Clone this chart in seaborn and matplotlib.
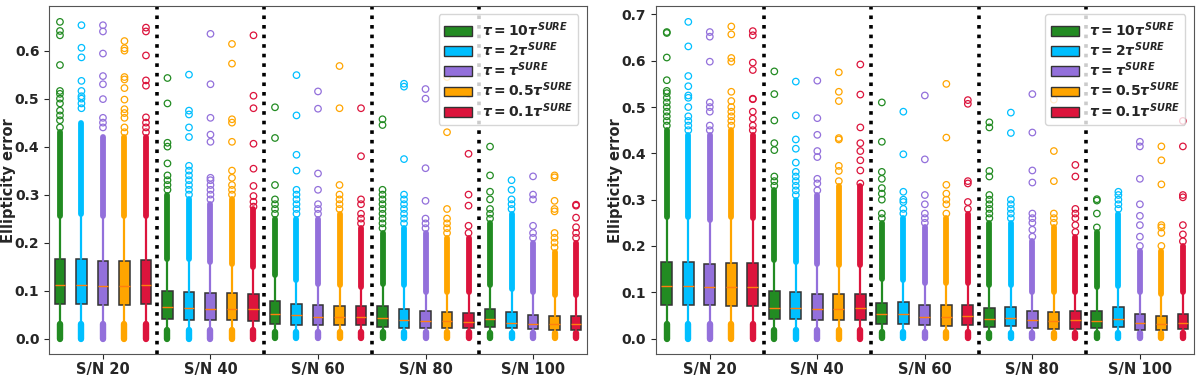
import numpy as np
import pandas as pd
import matplotlib
matplotlib.use("Agg")
import matplotlib.pyplot as plt
from matplotlib.patches import Patch
import seaborn as sns

# groups on the x axis and the five tau settings inside each group
SN_LABELS = ["S/N 20", "S/N 40", "S/N 60", "S/N 80", "S/N 100"]
TAU_LABELS = [r"$\boldsymbol{\tau = 10\tau^{SURE}}$", r"$\boldsymbol{\tau = 2\tau^{SURE}}$",
              r"$\boldsymbol{\tau = \tau^{SURE}}$", r"$\boldsymbol{\tau = 0.5\tau^{SURE}}$",
              r"$\boldsymbol{\tau = 0.1\tau^{SURE}}$"]
TAU_COLORS = ["forestgreen", "deepskyblue", "mediumpurple", "orange", "crimson"]

# ---- left panel (rows: S/N 20..100, cols: tau 10, 2, 1, 0.5, 0.1) ----
left_q3 = [[0.165, 0.165, 0.161, 0.161, 0.163],
           [0.099, 0.097, 0.094, 0.094, 0.093],
           [0.078, 0.073, 0.069, 0.068, 0.067],
           [0.067, 0.062, 0.057, 0.055, 0.054],
           [0.062, 0.055, 0.049, 0.047, 0.046]]
left_med = [[0.112, 0.112, 0.109, 0.109, 0.111],
            [0.066, 0.064, 0.062, 0.061, 0.061],
            [0.051, 0.0485, 0.045, 0.045, 0.044],
            [0.043, 0.038, 0.036, 0.036, 0.035],
            [0.040, 0.033, 0.031, 0.030, 0.030]]
left_q1 = [[0.071, 0.071, 0.070, 0.069, 0.071],
           [0.040, 0.0395, 0.038, 0.038, 0.0375],
           [0.031, 0.029, 0.028, 0.028, 0.028],
           [0.024, 0.023, 0.022, 0.022, 0.021],
           [0.024, 0.021, 0.019, 0.017, 0.017]]
left_whishi = [[0.256, 0.26, 0.255, 0.255, 0.255],
               [0.166, 0.165, 0.16, 0.155, 0.15],
               [0.132, 0.121, 0.114, 0.111, 0.107],
               [0.114, 0.112, 0.097, 0.097, 0.098],
               [0.111, 0.104, 0.097, 0.09, 0.091]]
left_whislo = [0.031, 0.018, 0.014, 0.013, 0.012]
left_lowmin = [0.0, 0.0, 0.002, 0.002, 0.002]
# top of the solid run of outliers above the upper whisker
left_dense_hi = [[0.43, 0.45, 0.42, 0.42, 0.42],
                 [0.30, 0.29, 0.28, 0.29, 0.27],
                 [0.25, 0.25, 0.25, 0.26, 0.23],
                 [0.22, 0.23, 0.22, 0.21, 0.21],
                 [0.24, 0.26, 0.20, 0.18, 0.20]]
left_fliers = [
    [[0.44, 0.455, 0.465, 0.475, 0.49, 0.50, 0.51, 0.516, 0.57, 0.632, 0.641, 0.66],
     [0.48, 0.49, 0.50, 0.505, 0.516, 0.537, 0.586, 0.606, 0.653],
     [0.44, 0.45, 0.46, 0.499, 0.53, 0.547, 0.594, 0.64, 0.653],
     [0.43, 0.44, 0.46, 0.47, 0.478, 0.498, 0.522, 0.54, 0.545, 0.60, 0.605, 0.62],
     [0.43, 0.44, 0.45, 0.461, 0.527, 0.538, 0.59, 0.64, 0.648]],
    [[0.31, 0.32, 0.33, 0.34, 0.365, 0.40, 0.408, 0.49, 0.543],
     [0.30, 0.31, 0.32, 0.33, 0.34, 0.35, 0.36, 0.42, 0.44, 0.467, 0.475, 0.55],
     [0.29, 0.30, 0.31, 0.32, 0.33, 0.335, 0.41, 0.425, 0.46, 0.53, 0.635],
     [0.30, 0.31, 0.32, 0.335, 0.35, 0.41, 0.45, 0.457, 0.573, 0.614],
     [0.275, 0.285, 0.297, 0.318, 0.354, 0.406, 0.48, 0.506, 0.632]],
    [[0.26, 0.27, 0.28, 0.29, 0.32, 0.418, 0.482],
     [0.26, 0.27, 0.28, 0.29, 0.30, 0.31, 0.35, 0.383, 0.465, 0.549],
     [0.26, 0.27, 0.28, 0.31, 0.344, 0.479, 0.515],
     [0.27, 0.28, 0.29, 0.30, 0.32, 0.48, 0.568],
     [0.24, 0.25, 0.26, 0.28, 0.29, 0.38, 0.48]],
    [[0.23, 0.24, 0.25, 0.26, 0.27, 0.28, 0.29, 0.30, 0.31, 0.445, 0.457],
     [0.24, 0.25, 0.26, 0.27, 0.28, 0.29, 0.30, 0.374, 0.525, 0.531],
     [0.23, 0.24, 0.25, 0.287, 0.355, 0.50, 0.52],
     [0.22, 0.23, 0.24, 0.25, 0.27, 0.43, 0.545],
     [0.22, 0.235, 0.277, 0.30, 0.385, 0.51]],
    [[0.25, 0.26, 0.27, 0.29, 0.306, 0.34, 0.40],
     [0.27, 0.28, 0.29, 0.31, 0.33],
     [0.21, 0.22, 0.235, 0.29, 0.30, 0.338],
     [0.19, 0.20, 0.21, 0.22, 0.265, 0.27, 0.287, 0.336, 0.34],
     [0.21, 0.22, 0.232, 0.252, 0.277, 0.279]],
]

# ---- right panel ----
right_q3 = [[0.165, 0.165, 0.162, 0.164, 0.164],
            [0.102, 0.1006, 0.097, 0.0963, 0.0963],
            [0.077, 0.078, 0.072, 0.072, 0.072],
            [0.066, 0.068, 0.0597, 0.0575, 0.059],
            [0.060, 0.068, 0.052, 0.049, 0.052]]
right_med = [[0.1136, 0.1136, 0.111, 0.111, 0.111],
             [0.066, 0.067, 0.063, 0.063, 0.065],
             [0.052, 0.052, 0.047, 0.047, 0.048],
             [0.042, 0.0446, 0.039, 0.037, 0.039],
             [0.037, 0.043, 0.0345, 0.031, 0.0345]]
right_q1 = [[0.072, 0.072, 0.072, 0.0705, 0.0705],
            [0.0417, 0.0417, 0.0395, 0.039, 0.0395],
            [0.032, 0.032, 0.029, 0.027, 0.029],
            [0.025, 0.027, 0.023, 0.0216, 0.0216],
            [0.023, 0.025, 0.019, 0.018, 0.020]]
right_whishi = [[0.262, 0.262, 0.255, 0.262, 0.26],
                [0.169, 0.165, 0.16, 0.158, 0.158],
                [0.129, 0.126, 0.119, 0.119, 0.119],
                [0.115, 0.115, 0.10, 0.10, 0.10],
                [0.111, 0.114, 0.10, 0.097, 0.10]]
right_whislo = [0.031, 0.018, 0.014, 0.013, 0.012]
right_lowmin = [0.0, 0.0, 0.002, 0.002, 0.002]
right_dense_hi = [[0.45, 0.44, 0.44, 0.45, 0.44],
                  [0.32, 0.30, 0.31, 0.33, 0.33],
                  [0.25, 0.26, 0.24, 0.26, 0.27],
                  [0.25, 0.25, 0.21, 0.24, 0.22],
                  [0.23, 0.27, 0.19, 0.19, 0.20]]
right_fliers = [
    [[0.46, 0.47, 0.48, 0.49, 0.50, 0.51, 0.52, 0.53, 0.535, 0.558, 0.607, 0.66, 0.662],
     [0.45, 0.46, 0.47, 0.48, 0.50, 0.52, 0.525, 0.545, 0.567, 0.631, 0.684],
     [0.45, 0.46, 0.49, 0.50, 0.51, 0.598, 0.652, 0.662],
     [0.46, 0.47, 0.48, 0.49, 0.50, 0.513, 0.533, 0.598, 0.606, 0.657, 0.674],
     [0.45, 0.46, 0.475, 0.49, 0.517, 0.518, 0.58, 0.596, 0.655, 0.664]],
    [[0.33, 0.34, 0.35, 0.407, 0.422, 0.471, 0.528, 0.577],
     [0.31, 0.32, 0.33, 0.34, 0.35, 0.36, 0.38, 0.41, 0.43, 0.482, 0.555],
     [0.32, 0.335, 0.345, 0.392, 0.405, 0.44, 0.476, 0.557],
     [0.34, 0.362, 0.373, 0.43, 0.433, 0.513, 0.533, 0.575],
     [0.335, 0.363, 0.385, 0.405, 0.422, 0.456, 0.527, 0.592]],
    [[0.26, 0.27, 0.30, 0.313, 0.325, 0.345, 0.36, 0.425, 0.51],
     [0.27, 0.28, 0.295, 0.30, 0.317, 0.398, 0.49],
     [0.25, 0.26, 0.27, 0.29, 0.31, 0.387, 0.525],
     [0.27, 0.29, 0.30, 0.313, 0.332, 0.434, 0.55],
     [0.28, 0.295, 0.335, 0.34, 0.507, 0.515]],
    [[0.26, 0.27, 0.28, 0.29, 0.30, 0.31, 0.35, 0.362, 0.456, 0.467],
     [0.26, 0.27, 0.28, 0.29, 0.30, 0.444, 0.488],
     [0.22, 0.235, 0.25, 0.26, 0.27, 0.337, 0.363, 0.445, 0.528],
     [0.25, 0.26, 0.27, 0.34, 0.405, 0.516],
     [0.23, 0.245, 0.26, 0.27, 0.28, 0.35, 0.375, 0.58]],
    [[0.24, 0.27, 0.298, 0.301],
     [0.28, 0.29, 0.30, 0.31, 0.317],
     [0.20, 0.22, 0.245, 0.265, 0.29, 0.345, 0.415, 0.425],
     [0.20, 0.228, 0.24, 0.245, 0.333, 0.385, 0.415],
     [0.21, 0.225, 0.245, 0.305, 0.31, 0.415, 0.47]],
]


def draw_panel(ax, q1, med, q3, whislo, whishi, lowmin, dense_hi, fliers):
    n_sn = len(SN_LABELS)
    n_tau = len(TAU_LABELS)
    rows = []
    for t in range(n_tau):
        color = TAU_COLORS[t]
        pos = [g * n_tau + t + 1 for g in range(n_sn)]
        stats = []
        for g in range(n_sn):
            stats.append(dict(med=med[g][t], q1=q1[g][t], q3=q3[g][t],
                              whislo=whislo[g], whishi=whishi[g][t], fliers=[]))
        # solid runs of overlapping outliers (above and below the whiskers)
        hi = ax.vlines(pos, [whishi[g][t] for g in range(n_sn)],
                       [dense_hi[g][t] for g in range(n_sn)],
                       colors=color, linewidth=4.2, zorder=1.5)
        hi.set_capstyle("round")
        lo = ax.vlines(pos, lowmin, whislo, colors=color, linewidth=4.6, zorder=1.5)
        lo.set_capstyle("round")
        ax.bxp(stats, positions=pos, widths=0.5, patch_artist=True,
               showcaps=False, showfliers=False, manage_ticks=False,
               boxprops=dict(facecolor=color, edgecolor="#333333", linewidth=1.1),
               whiskerprops=dict(color=color, linewidth=1.6),
               medianprops=dict(color="#ff7f0e", linewidth=1.0))
        for g in range(n_sn):
            for v in fliers[g][t]:
                rows.append((pos[g], v, TAU_LABELS[t]))
    df = pd.DataFrame(rows, columns=["pos", "err", "tau"])
    sns.scatterplot(data=df, x="pos", y="err", hue="tau", hue_order=TAU_LABELS,
                    palette=TAU_COLORS, s=22, linewidth=0.9, legend=False, ax=ax)
    pts = ax.collections[-1]
    pts.set_edgecolors(pts.get_facecolors())
    pts.set_facecolors("none")

    for g in range(1, n_sn):
        ax.axvline(g * n_tau + 0.5, color="black", linestyle=":", linewidth=2.6)
    ax.set_xlim(0.5, n_sn * n_tau + 0.5)
    ax.set_xticks([g * n_tau + 3 for g in range(n_sn)])
    ax.set_xticklabels(SN_LABELS)
    ax.set_xlabel("")
    ax.set_ylabel("Ellipticity error", fontsize=10.5, fontweight="bold")
    ax.yaxis.set_label_coords(-0.061, 0.5)
    ax.tick_params(axis="y", labelsize=10)
    ax.tick_params(axis="x", labelsize=10.5, pad=2)
    for lab in ax.get_xticklabels() + ax.get_yticklabels():
        lab.set_fontweight("bold")
    handles = [Patch(facecolor=c, edgecolor="#333333", label=l)
               for c, l in zip(TAU_COLORS, TAU_LABELS)]
    ax.legend(handles=handles, loc="upper right", fontsize=10,
              labelspacing=0.12, borderaxespad=0.6, handletextpad=0.7)


sns.set_style("ticks")
plt.rcParams["font.family"] = ["DejaVu Sans"]
plt.rcParams["font.weight"] = "bold"

fig = plt.figure(figsize=(12, 3.77), dpi=100)
ax1 = fig.add_axes([0.041, 0.06, 0.448, 0.924])
ax2 = fig.add_axes([0.5467, 0.06, 0.448, 0.924])
draw_panel(ax1, left_q1, left_med, left_q3, left_whislo, left_whishi,
           left_lowmin, left_dense_hi, left_fliers)
draw_panel(ax2, right_q1, right_med, right_q3, right_whislo, right_whishi,
           right_lowmin, right_dense_hi, right_fliers)
for ax in (ax1, ax2):
    for sp in ax.spines.values():
        sp.set_color("#555555")
fig.savefig("out.png", dpi=100)
